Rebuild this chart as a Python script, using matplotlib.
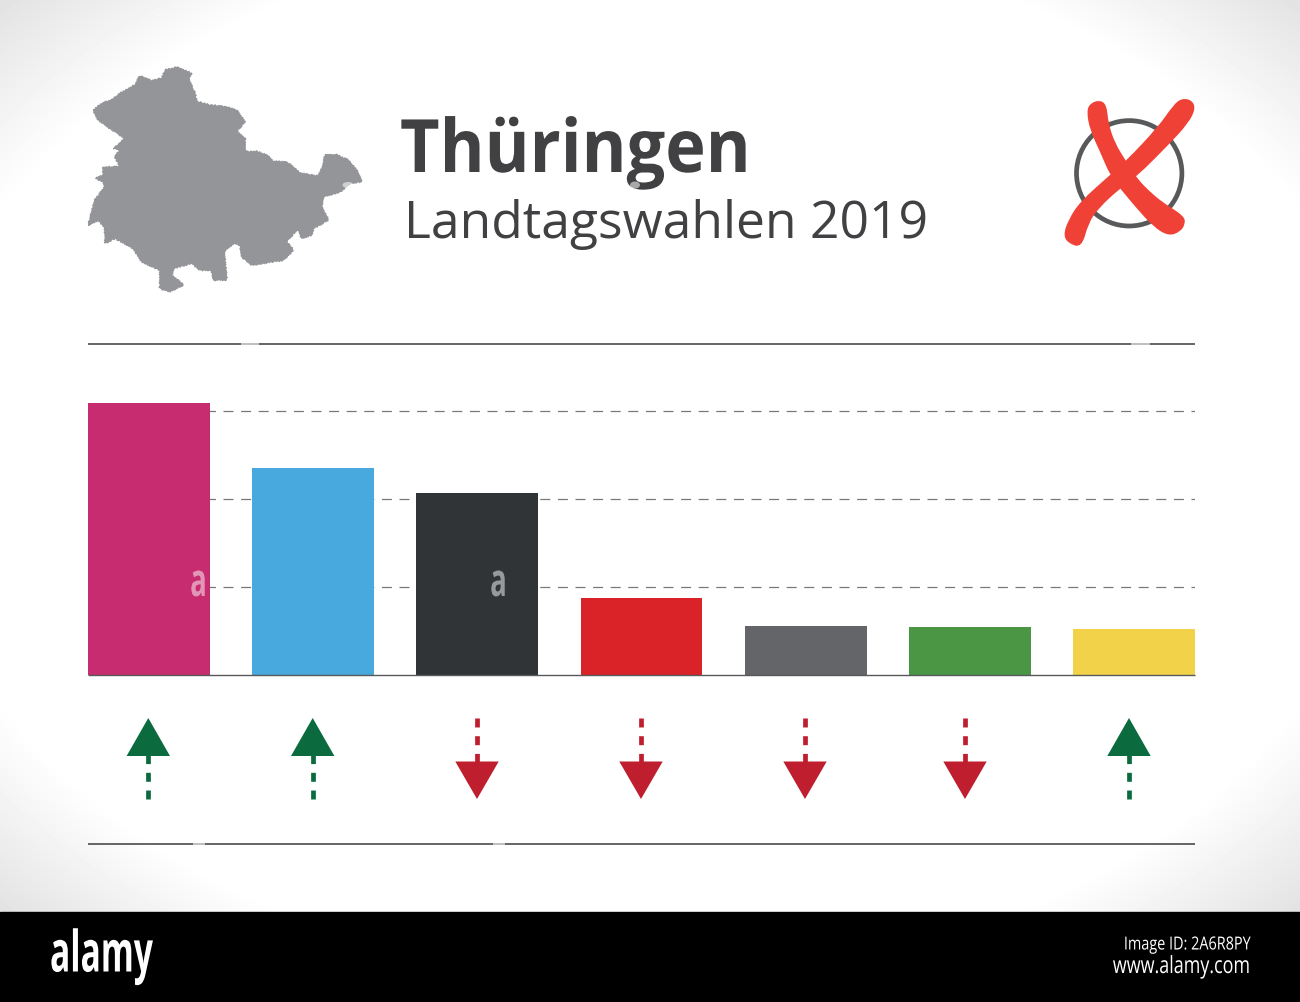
import numpy as np
import matplotlib
matplotlib.use('Agg')
import matplotlib.pyplot as plt
from matplotlib.path import Path
from matplotlib.patches import PathPatch, Polygon, Circle, Ellipse, Rectangle
from matplotlib.patheffects import AbstractPathEffect
from matplotlib.transforms import Affine2D

W, H = 1300, 1002
BAND_TOP = 912

parties = ['Linke', 'AfD', 'CDU', 'SPD', 'Sonstige', 'Gruene', 'FDP']
values = [30.9, 23.5, 20.7, 8.75, 5.55, 5.45, 5.2]
colors = ['#c62c6f', '#47a9de', '#313436', '#da2329', '#636569', '#4a9645', '#f1d249']
# +1 gained, -1 lost
trend = [1, 1, -1, -1, -1, -1, 1]
grid_levels = [10, 20, 30]

title = 'Thüringen'
subtitle = 'Landtagswahlen 2019'

# outline, in zoom crop pixels
state_outline = [
    (70, 180), (100, 158), (125, 150), (150, 130), (195, 105), (208, 78), (245, 92), (275, 85),
    (285, 60), (320, 52), (365, 70), (355, 85), (375, 130), (380, 155), (420, 165), (460, 170),
    (500, 180), (525, 215), (500, 245), (525, 265), (525, 305), (560, 305), (590, 315), (610, 335),
    (650, 335), (690, 370), (745, 378), (760, 345), (765, 315), (800, 315), (835, 330), (860, 360),
    (875, 395), (840, 400), (810, 425), (760, 440), (755, 470), (775, 510), (730, 535), (725, 555),
    (695, 565), (685, 535), (650, 575), (670, 600), (640, 630), (545, 645), (515, 620), (510, 585),
    (490, 580), (462, 605), (470, 690), (430, 690), (425, 660), (390, 660), (365, 640), (310, 655),
    (305, 675), (340, 705), (300, 725), (270, 715), (270, 660), (215, 635), (190, 595), (135, 565),
    (105, 580), (105, 535), (85, 510), (55, 525), (75, 450), (105, 410), (100, 395), (78, 385),
    (100, 375), (100, 352), (150, 350), (135, 320), (150, 300), (130, 295), (145, 285), (165, 265),
    (120, 235), (85, 210),
]
cross_a = [
    (140, 95), (150, 70), (180, 60), (200, 75), (205, 130), (225, 190), (258, 243), (290, 295),
    (340, 345), (380, 375), (432, 408), (436, 432), (420, 456), (385, 468), (340, 440), (290, 385),
    (240, 325), (210, 285), (180, 215), (150, 150),
]
cross_b = [
    (400, 75), (425, 55), (455, 60), (467, 85), (445, 130), (385, 195), (290, 290), (240, 325),
    (175, 385), (145, 430), (125, 503), (85, 490), (70, 465), (85, 420), (120, 365), (210, 285),
    (258, 243), (355, 140),
]


class Squeeze(AbstractPathEffect):
    """scale a text in x around a fixed x pixel"""

    def __init__(self, x0, sx):
        super().__init__()
        self.x0 = x0
        self.sx = sx

    def draw_path(self, renderer, gc, tpath, affine, rgbFace=None):
        squeeze = Affine2D().translate(-self.x0, 0).scale(self.sx, 1).translate(self.x0, 0)
        renderer.draw_path(gc, tpath, affine + squeeze, rgbFace)


def smooth_closed(points):
    """closed path through the edge midpoints, with the points as control points"""
    pts = np.array(points, dtype=float)
    mids = (pts + np.roll(pts, -1, axis=0)) / 2
    verts = [mids[-1]]
    codes = [Path.MOVETO]
    for p, m in zip(pts, mids):
        verts += [p, m]
        codes += [Path.CURVE3, Path.CURVE3]
    return Path(verts, codes)


fig = plt.figure(figsize=(W / 100, H / 100), dpi=100)
plt.rcParams['font.family'] = ['Open Sans', 'DejaVu Sans']

# page axes in image pixels
page = fig.add_axes([0, 0, 1, 1])
page.set_xlim(0, W)
page.set_ylim(H, 0)
page.axis('off')

# white page going grey in the corners
yy, xx = np.mgrid[0:BAND_TOP:2, 0:W:2]
dist = np.sqrt(((xx - 650) / 790) ** 2 + ((yy - 456) / 560) ** 2)
shade = 1 - 0.2 * np.clip((dist - 0.93) / 0.4, 0, 1)
page.imshow(shade, cmap='gray', vmin=0, vmax=1, extent=(0, W, BAND_TOP, 0), aspect='auto', zorder=0)
page.set_xlim(0, W)
page.set_ylim(H, 0)
page.add_patch(Rectangle((0, BAND_TOP), W, H - BAND_TOP, color='black', zorder=1))

# state shape
state = np.array(state_outline) / 3 + (70, 50)
shape = Polygon(state, closed=True, facecolor='#939598', edgecolor='#939598', lw=1.0, zorder=2)
shape.set_sketch_params(scale=0.7, length=3, randomness=2)
page.add_patch(shape)

t = page.text(400, 172, title, fontsize=53, fontweight='bold', color='#414042', va='baseline', zorder=3)
t.set_path_effects([Squeeze(400, 0.93)])
page.text(404, 238, subtitle, fontsize=37.2, color='#414042', va='baseline', zorder=3)

# ballot circle and cross
page.add_patch(Circle((1129.2, 173.3), 52.7, fill=False, edgecolor='#58595b', lw=3.4, zorder=2))
for stroke in (cross_a, cross_b):
    verts = np.array(stroke) / 3 + (1040, 80)
    page.add_patch(PathPatch(smooth_closed(verts), facecolor='#f04136', edgecolor='none', zorder=3))

# rules above and below the chart
for y in (344, 843.5):
    page.plot([88, 1195], [y, y], color='#58595b', lw=1.3, solid_capstyle='butt', zorder=2)

# chart axes, baseline at y=675, 88 px per 10 units
ax = fig.add_axes([88 / W, 1 - 675 / H, (1195 - 88) / W, 300 / H])
ax.patch.set_alpha(0)
ax.set_xlim(-0.371, 6.371)
ax.set_ylim(0, 300 / 8.8)
ax.axis('off')
ax.bar(range(len(values)), values, width=0.742, color=colors, zorder=3)
for level in grid_levels:
    ax.plot([-0.083, 6.371], [level, level], color='#77787b', lw=0.9, dashes=(8, 6.08), zorder=2)
ax.plot([-0.371, 6.371], [0, 0], color='#58595b', lw=1.0, solid_capstyle='butt', zorder=4, clip_on=False)

# trend arrows
green, red = '#0b6b3f', '#be1e2d'
arrow_x = [148.3, 312.7, 477, 641, 805, 965, 1129]
for x, d in zip(arrow_x, trend):
    if d > 0:
        page.plot([x, x], [799.3, 755], color=green, lw=3.4, dashes=(1.9, 1.85), zorder=3)
        page.add_patch(Polygon([(x - 21.7, 756), (x + 21.7, 756), (x, 718)], facecolor=green, edgecolor='none', zorder=3))
    else:
        page.plot([x, x], [718, 762], color=red, lw=3.4, dashes=(1.9, 1.85), zorder=3)
        page.add_patch(Polygon([(x - 21.7, 761.5), (x + 21.7, 761.5), (x, 799)], facecolor=red, edgecolor='none', zorder=3))

# bits of the stock photo watermark
for x in (198.5, 498.5):
    a = ax.text(x, 596, 'a', fontsize=33, fontweight='bold', color='white', alpha=0.5,
                ha='center', va='baseline', zorder=6, transform=page.transData)
    a.set_path_effects([Squeeze(x, 0.6)])
for x, y, w, h in [(348, 185, 11, 6), (635, 185, 10, 7)]:
    page.add_patch(Ellipse((x, y), w, h, facecolor='white', alpha=0.55, edgecolor='none', zorder=6))
for x0, x1, y in [(241, 259, 344), (1131, 1150, 344), (193, 205, 843.5), (493, 505, 843.5)]:
    page.plot([x0, x1], [y, y], color='white', alpha=0.6, lw=1.4, solid_capstyle='butt', zorder=6)

# stock photo band
a = page.text(50, 971.5, 'alamy', fontsize=41, fontweight='bold', color='white', va='baseline', zorder=5)
a.set_path_effects([Squeeze(50, 0.59)])
for text, y, size, sx, x0 in [('Image ID: 2A6R8PY', 949.5, 13, 0.8, 1250), ('www.alamy.com', 973, 17, 0.76, 1250)]:
    a = page.text(x0, y, text, fontsize=size, color='white', ha='right', va='baseline', zorder=5)
    a.set_path_effects([Squeeze(x0, sx)])

fig.savefig('out.png', dpi=100)
